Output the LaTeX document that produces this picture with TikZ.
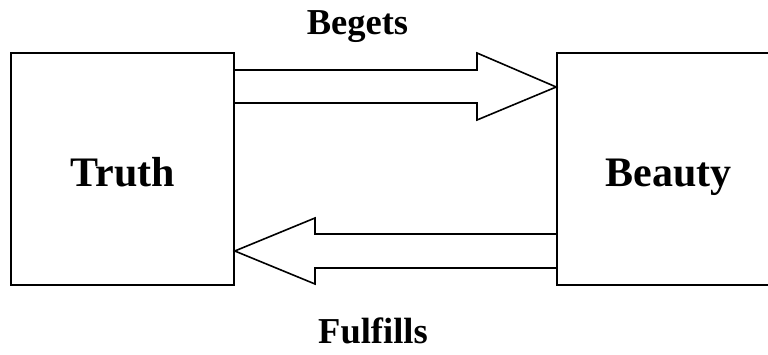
\documentclass[tikz,border=0pt]{standalone}
\usepackage{fontspec}
\setmainfont{Liberation Serif}
\begin{document}
\begin{tikzpicture}[x=1pt,y=-1pt,
  box/.style={draw=black,line width=1.6pt,minimum width=223pt,minimum height=232pt,inner sep=0pt,
     font=\fontsize{42}{50}\selectfont\bfseries},
  bigarrow/.style={draw=black,line width=1.6pt,line join=miter},
  lbl/.style={font=\fontsize{36.5}{44}\selectfont\bfseries,anchor=base,inner sep=0pt}]
\useasboundingbox (0,0) rectangle (768,355);
\clip (0,0) rectangle (768,355);
\node[box] (truth) at (122.5,169) {};
\node[box] (beauty) at (668.5,169) {};
\node[anchor=base,inner sep=0pt,font=\fontsize{42}{50}\selectfont\bfseries] (ttxt) at (123,187) {Truth};
\node[anchor=base,inner sep=0pt,font=\fontsize{42}{50}\selectfont\bfseries] (btxt) at (668.5,187) {Beauty};
% Begets arrow: from truth to beauty
\coordinate (tip1) at (beauty.west |- 0,87);
\draw[bigarrow] (truth.east |- 0,70) -- (477,70) -- (477,53) -- (tip1) -- (477,120) -- (477,103) -- (truth.east |- 0,103);
% Fulfills arrow: from beauty to truth
\coordinate (tip2) at (truth.east |- 0,251);
\draw[bigarrow] (beauty.west |- 0,234) -- (315,234) -- (315,218) -- (tip2) -- (315,284) -- (315,268) -- (beauty.west |- 0,268);
\node[lbl] (begets) at (357.5,35) {Begets};
\node[lbl] (fulfills) at (373,343) {Fulfills};
\end{tikzpicture}
\end{document}
